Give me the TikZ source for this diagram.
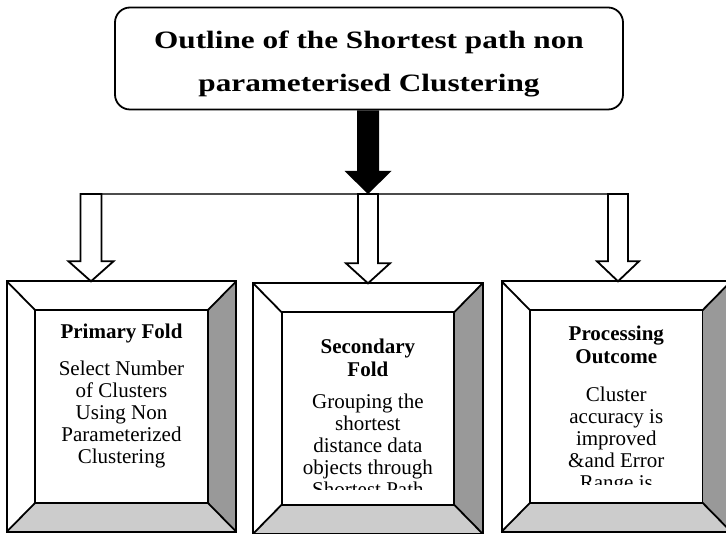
\documentclass[tikz,border=0pt]{standalone}
\usepackage{fontspec}
\setmainfont{Liberation Serif}
\newfontfamily\titlefont[FakeStretch=1.25]{Liberation Serif}
\usetikzlibrary{positioning, calc}
\definecolor{bevelside}{gray}{0.6}
\definecolor{bevelfoot}{gray}{0.8}
\tikzset{
  titlebox/.style={draw, line width=1.8pt, rounded corners=15pt, fill=white, minimum width=508pt, minimum height=102pt, inner sep=0pt},
  titletext/.style={font=\titlefont\bfseries\fontsize{25}{43}\selectfont, align=center, inner sep=0pt, anchor=base},
  frame/.style={minimum width=229pt, minimum height=250pt, inner sep=0pt},
  window/.style={minimum width=172pt, minimum height=192pt, inner sep=0pt},
  edge/.style={line width=1.8pt, line join=miter},
  head/.style={font=\bfseries\fontsize{21}{23}\selectfont, align=center, inner sep=0pt, anchor=base},
  body/.style={font=\fontsize{21}{22}\selectfont, align=center, inner sep=0pt, anchor=base},
  hollow/.style={draw, line width=1.8pt, fill=white, line join=miter},
  blackhead/.style={fill=black},
  rail/.style={line width=1.2pt, black!70},
}
% block arrow pointing down: [style]{start}{tip}{half shaft}{half head}{head length}
\newcommand{\blockdown}[6][hollow]{%
  \path[#1] ($(#2)+(-#4,0)$) -- ($(#3)+(-#4,-#6)$) -- ($(#3)+(-#5,-#6)$) -- (#3)
    -- ($(#3)+(#5,-#6)$) -- ($(#3)+(#4,-#6)$) -- ($(#2)+(#4,0)$) -- cycle;}

\begin{document}
\begin{tikzpicture}[x=1pt, y=-1pt]
  \useasboundingbox (0,0) rectangle (726,534);

  % title (base = baseline of the last line)
  \node[titlebox] (title) at (369,58.5) {};
  \begin{scope}
    \clip (title.north west) rectangle ($(title.south east)+(0,-13)$);
    \node[titletext] (tt) at ($(title.north)+(0,84.5)$) {Outline of the Shortest path non\\parameterised Clustering};
  \end{scope}

  % the three folds
  \node[frame] (b1) at (121.5,406.5) {};
  \node[frame, right=17pt of b1, yshift=-2pt] (b2) {};
  \node[frame, right=19pt of b2, yshift=2pt] (b3) {};
  \foreach \o/\i in {b1/w1, b2/w2, b3/w3} {
    \node[window] (\i) at (\o) {};
    \fill[white] (\o.north west) -- (\o.north east) -- (\i.north east) -- (\i.north west) -- cycle;
    \fill[bevelside] (\o.north east) -- (\o.south east) -- (\i.south east) -- (\i.north east) -- cycle;
    \fill[bevelfoot] (\o.south west) -- (\o.south east) -- (\i.south east) -- (\i.south west) -- cycle;
    \draw[edge] (\o.north west) -- (\i.north west) (\o.north east) -- (\i.north east)
      (\o.south west) -- (\i.south west) (\o.south east) -- (\i.south east);
    \draw[edge] (\o.north west) rectangle (\o.south east);
    \draw[edge] (\i.north west) rectangle (\i.south east);
  }

  \node[head] (h1) at ($(w1.north)+(0,28)$) {Primary Fold};
  \node[head] (h2) at ($(w2.north)+(0,64)$) {Secondary\\Fold};
  \node[head] (h3) at ($(w3.north)+(0,53)$) {Processing\\Outcome};
  \begin{scope}
    \clip (w1.north west) rectangle ($(w1.south east)+(0,-15)$);
    \node[body] (t1) at ($(w1.north)+(0,153)$) {Select Number\\of Clusters\\Using Non\\Parameterized\\Clustering};
  \end{scope}
  \begin{scope}
    \clip (w2.north west) rectangle ($(w2.south east)+(0,-15)$);
    \node[body] (t2) at ($(w2.north)+(0,184)$) {Grouping the\\shortest\\distance data\\objects through\\Shortest Path};
  \end{scope}
  \begin{scope}
    \clip (w3.north west) rectangle ($(w3.south east)+(0,-18)$);
    \node[body] (t3) at ($(w3.north)+(0,179)$) {Cluster\\accuracy is\\improved\\\&and Error\\Range is};
  \end{scope}

  % connectors
  \coordinate (a1) at (91,194);
  \coordinate (a2) at (368,194);
  \coordinate (a3) at (618,194);
  \draw[rail] ($(a1)+(-11,0)$) -- ($(a3)+(10,0)$);
  \blockdown[blackhead]{title.south -| a2}{a2}{11}{23.5}{23}
  \blockdown{a1}{a1 |- b1.north}{10.5}{22.5}{20}
  \blockdown{a2}{a2 |- b2.north}{10}{22}{20}
  \blockdown{a3}{a3 |- b3.north}{10}{21}{20}
\end{tikzpicture}
\end{document}
